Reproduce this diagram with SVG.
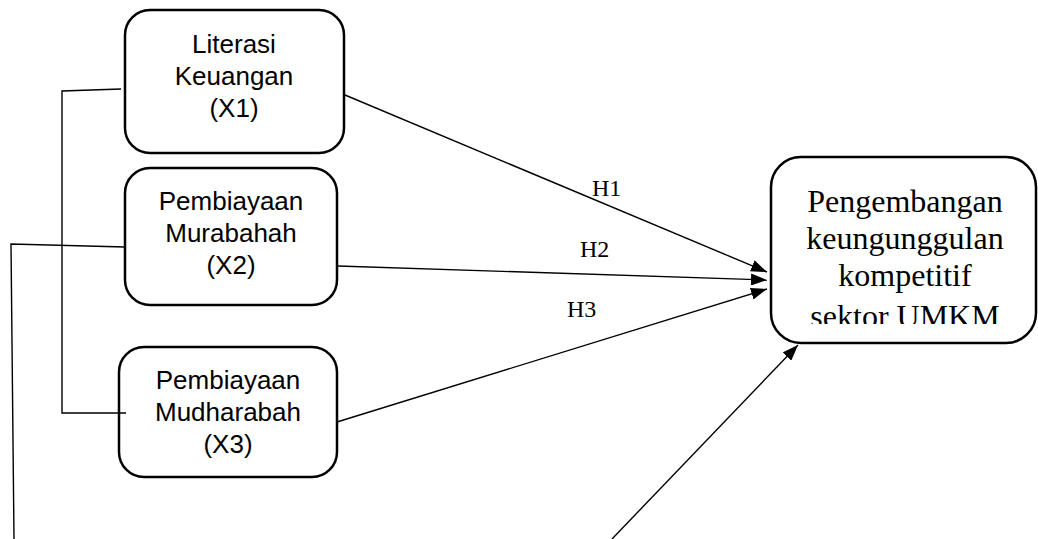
<svg xmlns="http://www.w3.org/2000/svg" width="1038" height="539" viewBox="0 0 1038 539">
<style>
.box{fill:#fff;stroke:#000;stroke-width:2.5}
.lbl{font-family:"Liberation Sans",Arial,sans-serif;font-size:26px;fill:#000;text-anchor:middle}
.ser{font-family:"Liberation Serif","Times New Roman",serif;fill:#000}
.con{fill:none;stroke:#000;stroke-width:1.4}
</style>
<defs>
<marker id="ah" viewBox="0 0 16 12" refX="16" refY="6" markerWidth="16" markerHeight="12" markerUnits="userSpaceOnUse" orient="auto">
<path d="M0,0 L16,6 L0,12 z" fill="#000"/>
</marker>
<clipPath id="clipT"><rect x="771" y="157" width="267" height="167"/></clipPath>
</defs>
<rect width="1038" height="539" fill="#fff"/>
<g id="n1">
<rect class="box" x="125" y="10" width="219" height="143" rx="25"/>
<text class="lbl" x="234" y="53">Literasi</text>
<text class="lbl" x="234" y="85">Keuangan</text>
<text class="lbl" x="234" y="117">(X1)</text>
</g>
<g id="n2">
<rect class="box" x="125" y="168" width="212" height="137" rx="25"/>
<text class="lbl" x="231" y="210">Pembiayaan</text>
<text class="lbl" x="231" y="242">Murabahah</text>
<text class="lbl" x="231" y="274">(X2)</text>
</g>
<g id="n3">
<rect class="box" x="119" y="347" width="218" height="130" rx="25"/>
<text class="lbl" x="228" y="389">Pembiayaan</text>
<text class="lbl" x="228" y="421">Mudharabah</text>
<text class="lbl" x="228" y="453">(X3)</text>
</g>
<g id="n4">
<rect class="box" x="771" y="157" width="265" height="186" rx="30"/>
<g clip-path="url(#clipT)" class="ser" font-size="32" text-anchor="middle">
<text x="905" y="212">Pengembangan</text>
<text x="905" y="249">keungunggulan</text>
<text x="905" y="286">kompetitif</text>
<text x="905" y="327">sektor UMKM</text>
</g>
</g>
<g id="connectors">
<line class="con" x1="345" y1="95" x2="767" y2="272" marker-end="url(#ah)"/>
<line class="con" x1="338" y1="266" x2="767" y2="280" marker-end="url(#ah)"/>
<line class="con" x1="337" y1="422" x2="767" y2="289" marker-end="url(#ah)"/>
<line class="con" x1="612" y1="539" x2="798" y2="345" marker-end="url(#ah)"/>
<polyline class="con" points="121,89 62,91 62,413 126,413"/>
<polyline class="con" points="125,247 11,244 14,539"/>
</g>
<g id="labels" class="ser" font-size="24">
<text x="592" y="196">H1</text>
<text x="580" y="257">H2</text>
<text x="567" y="317">H3</text>
</g>
</svg>
